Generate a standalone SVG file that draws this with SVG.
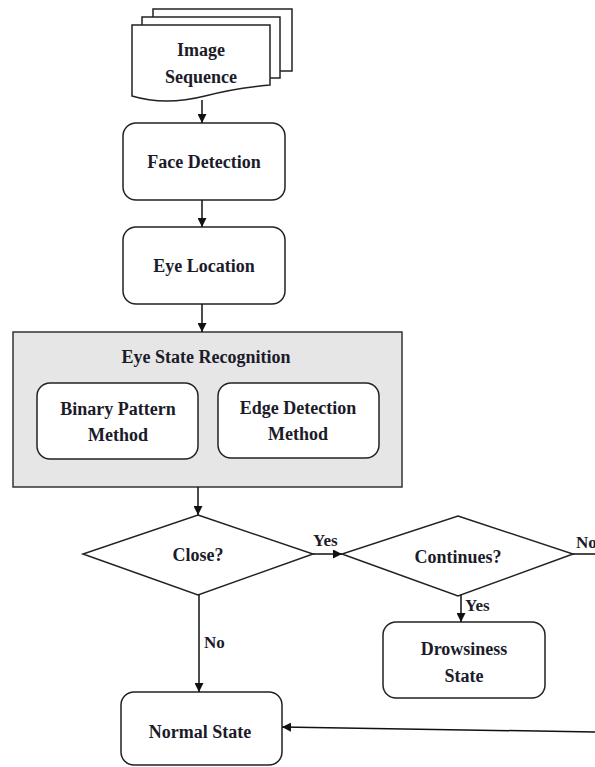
<svg xmlns="http://www.w3.org/2000/svg" width="595" height="767" viewBox="0 0 595 767">
<defs>
<marker id="arr" viewBox="0 0 10 10" refX="10" refY="5" markerWidth="9" markerHeight="9" markerUnits="userSpaceOnUse" orient="auto">
<path d="M0,0 L10,5 L0,10 Z" fill="#111"/>
</marker>
</defs>
<style>
.box{fill:#fff;stroke:#222;stroke-width:1.5}
.t{font-family:"Liberation Serif","Times New Roman",serif;font-weight:bold;font-size:18px;fill:#1b1b2a;text-anchor:middle;dominant-baseline:central}
.l{font-family:"Liberation Serif","Times New Roman",serif;font-weight:bold;font-size:17px;fill:#1b1b2a;dominant-baseline:central}
.c{fill:none;stroke:#111;stroke-width:1.5;marker-end:url(#arr)}
</style>
<rect width="595" height="767" fill="#fff"/>
<g id="image-sequence">
<rect class="box" x="153" y="9" width="139" height="62"/>
<rect class="box" x="142" y="17" width="138" height="61"/>
<path class="box" d="M132,25 H270 V85 Q235,88 205,96 Q165,106 132,96 Z"/>
<text class="t" x="201" y="50">Image</text>
<text class="t" x="201" y="77">Sequence</text>
</g>
<g id="face-detection">
<rect class="box" x="123" y="123" width="162" height="77" rx="13"/>
<text class="t" x="204" y="162">Face Detection</text>
</g>
<g id="eye-location">
<rect class="box" x="123" y="227" width="162" height="77" rx="13"/>
<text class="t" x="204" y="266">Eye Location</text>
</g>
<g id="eye-state-recognition">
<rect x="13" y="332" width="389" height="155" fill="#e6e6e6" stroke="#333" stroke-width="1.5"/>
<text class="t" x="206" y="357">Eye State Recognition</text>
</g>
<g id="binary-pattern">
<rect class="box" x="37" y="383" width="161" height="76" rx="13"/>
<text class="t" x="118" y="409">Binary Pattern</text>
<text class="t" x="118" y="435">Method</text>
</g>
<g id="edge-detection">
<rect class="box" x="218" y="383" width="161" height="75" rx="13"/>
<text class="t" x="298" y="408">Edge Detection</text>
<text class="t" x="298" y="434">Method</text>
</g>
<g id="close">
<path class="box" d="M198,515 L313,554 L198,595 L83,554 Z"/>
<text class="t" x="198" y="555">Close?</text>
</g>
<g id="continues">
<path class="box" d="M458,516 L573,554 L458,596 L342,554 Z"/>
<text class="t" x="458" y="557">Continues?</text>
</g>
<g id="drowsiness-state">
<rect class="box" x="383" y="622" width="162" height="76" rx="13"/>
<text class="t" x="464" y="649">Drowsiness</text>
<text class="t" x="464" y="676">State</text>
</g>
<g id="normal-state">
<rect class="box" x="121" y="692" width="161" height="73" rx="13"/>
<text class="t" x="200" y="732">Normal State</text>
</g>
<g id="connectors">
<line class="c" x1="202" y1="100" x2="202" y2="123"/>
<line class="c" x1="202" y1="200" x2="202" y2="227"/>
<line class="c" x1="202" y1="304" x2="202" y2="332"/>
<line class="c" x1="198" y1="487" x2="198" y2="515"/>
<line class="c" x1="313" y1="554" x2="342" y2="554"/>
<line class="c" x1="461" y1="595" x2="461" y2="622"/>
<line class="c" x1="199" y1="595" x2="199" y2="692"/>
<line x1="573" y1="554" x2="595" y2="554" stroke="#111" stroke-width="1.5"/>
<line class="c" x1="595" y1="732" x2="282" y2="727"/>
<text class="l" x="313" y="540">Yes</text>
<text class="l" x="576" y="542">No</text>
<text class="l" x="465" y="605">Yes</text>
<text class="l" x="204" y="642">No</text>
</g>
</svg>
